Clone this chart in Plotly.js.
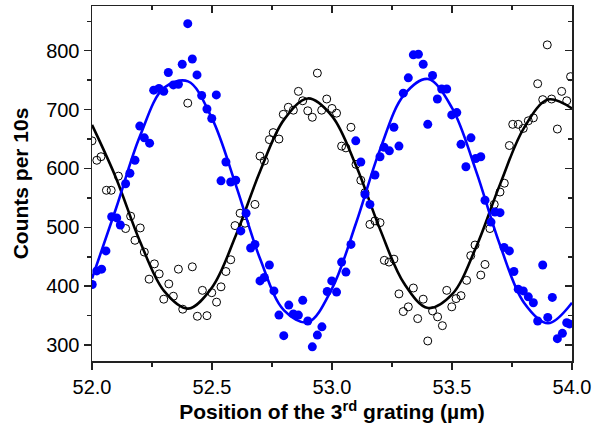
<!DOCTYPE html>
<html>
<head>
<meta charset="utf-8">
<script src="https://cdn.plot.ly/plotly-3.0.1.min.js"></script>
<style>html,body{margin:0;padding:0;background:#fff;}#chart{width:603px;height:427px;}</style>
</head>
<body>
<div id="chart"></div>
<script>
// Filled (blue) data points
const blueX = [52.001,52.02,52.04,52.058,52.082,52.103,52.118,52.14,52.158,52.179,52.199,52.218,52.24,52.257,52.279,52.299,52.318,52.339,52.36,52.376,52.399,52.418,52.4375,52.457,52.479,52.499,52.518,52.5375,52.558,52.578,52.599,52.62,52.642,52.661,52.679,52.7,52.718,52.739,52.758,52.779,52.799,52.82,52.839,52.86,52.878,52.899,52.918,52.939,52.958,52.98,52.999,53.019,53.04,53.058,53.079,53.099,53.12,53.1375,53.158,53.179,53.2,53.217,53.239,53.258,53.279,53.297,53.318,53.339,53.36,53.38,53.399,53.419,53.439,53.457,53.478,53.499,53.52,53.5375,53.558,53.579,53.599,53.62,53.6375,53.6625,53.679,53.7,53.717,53.739,53.758,53.776,53.797,53.818,53.839,53.857,53.878,53.899,53.918,53.939,53.96,53.978,53.989];
const blueY = [403,426,429,460,518,516,504,574,592,614,672,652,643,733,736,731,763,742,743,777,846,786,759,724,701,685,725,579,611,577,580,494,524,465,471,409,415,436,392,351,316,368,353,351,376,341,297,317,331,391,409,390,441,424,471,647,611,556,539,589,620,636,630,670,638,728,754,793,794,777,675,758,718,735,735,691,695,641,603,652,617,620,546,509,526,525,466,460,425,395,392,382,372,341,436,347,381,311,320,338,336];

// Open (black) data points
const blackX = [52.0,52.02,52.0375,52.06,52.08,52.11,52.14,52.161,52.179,52.201,52.218,52.238,52.26,52.28,52.299,52.32,52.339,52.36,52.378,52.399,52.418,52.439,52.46,52.479,52.499,52.519,52.5375,52.558,52.578,52.596,52.617,52.6375,52.679,52.7,52.718,52.739,52.755,52.779,52.797,52.818,52.839,52.86,52.878,52.899,52.918,52.939,52.957,52.978,53.0,53.019,53.04,53.058,53.079,53.1,53.12,53.1375,53.158,53.179,53.2,53.218,53.2375,53.258,53.279,53.297,53.318,53.339,53.357,53.38,53.399,53.419,53.44,53.46,53.478,53.499,53.517,53.5375,53.561,53.578,53.596,53.62,53.6375,53.658,53.676,53.7,53.718,53.739,53.753,53.776,53.797,53.818,53.839,53.857,53.878,53.897,53.915,53.939,53.957,53.978,53.994];
const blackY = [647,614,620,563,563,587,498,519,478,499,458,412,438,421,378,404,383,429,361,711,433,349,393,350,389,373,399,425,445,503,524,507,539,621,613,649,661,650,692,704,699,731,715,698,687,762,699,718,702,694,638,635,670,607,580,559,505,511,508,444,441,446,387,357,365,397,345,378,307,358,348,333,393,365,379,384,410,452,470,419,437,498,539,560,575,639,675,675,668,681,686,744,717,810,718,667,731,715,756];

// Fitted curves at 0.1 µm steps
const fitX = [52.0,52.1,52.2,52.3,52.4,52.5,52.6,52.7,52.8,52.9,53.0,53.1,53.2,53.3,53.4,53.5,53.6,53.7,53.8,53.9,54.0];
const blueFitY = [413,532,655,737,748,685,571,447,359,339,396,507,632,725,752,703,596,470,372,337,372];
const blackFitY = [674,584,476,392,362,398,487,595,683,719,689,605,497,405,363,386,466,573,669,717,702];

const xTicks = [52.0,52.5,53.0,53.5,54.0];
const yTicks = [300,400,500,600,700,800];

const traces = [
  {x: blackX, y: blackY, type: 'scatter', mode: 'markers',
   marker: {symbol: 'circle-open', size: 8, color: '#000', line: {width: 1, color: '#000'}}},
  {x: fitX, y: blackFitY, type: 'scatter', mode: 'lines',
   line: {color: '#000', width: 2.6, shape: 'spline', smoothing: 1}},
  {x: blueX, y: blueY, type: 'scatter', mode: 'markers',
   marker: {symbol: 'circle', size: 9, color: '#0000ff'}},
  {x: fitX, y: blueFitY, type: 'scatter', mode: 'lines',
   line: {color: '#0000ff', width: 2.6, shape: 'spline', smoothing: 1}}
];

const font = {family: 'Liberation Sans, Arial, sans-serif', color: '#000'};
const layout = {
  width: 603, height: 427,
  margin: {l: 92, r: 31, t: 6, b: 66, pad: 0},
  paper_bgcolor: '#fff', plot_bgcolor: '#fff',
  showlegend: false,
  font: font,
  xaxis: {
    range: [52.0, 54.0], tickvals: xTicks, ticktext: xTicks.map(v => v.toFixed(1)),
    ticks: 'outside', ticklen: 7, tickwidth: 1.5, tickcolor: '#222',
    showline: true, linecolor: '#222', linewidth: 1.5, showgrid: false, zeroline: false,
    tickfont: {family: font.family, size: 20, color: '#000'},
    minor: {ticks: 'outside', ticklen: 4, tickwidth: 1.5, tickcolor: '#222', tickvals: [52.25,52.75,53.25,53.75], showgrid: false},
    title: {text: '<b>Position of the 3<sup>rd</sup> grating (µm)</b>', font: {family: font.family, size: 21, color: '#000'}, standoff: 8}
  },
  yaxis: {
    range: [273, 876], tickvals: yTicks,
    ticks: 'outside', ticklen: 7, tickwidth: 1.5, tickcolor: '#222',
    showline: true, linecolor: '#222', linewidth: 1.5, showgrid: false, zeroline: false,
    tickfont: {family: font.family, size: 20, color: '#000'},
    minor: {ticks: 'outside', ticklen: 4, tickwidth: 1.5, tickcolor: '#222', tickvals: [350,450,550,650,750,850], showgrid: false},
    title: {text: '<b>Counts per 10s</b>', font: {family: font.family, size: 21, color: '#000'}, standoff: 12}
  },
  xaxis2: {
    overlaying: 'x', side: 'top', anchor: 'y', range: [52.0, 54.0], tickvals: xTicks,
    ticks: 'inside', ticklen: 7, tickwidth: 1.5, tickcolor: '#222', showticklabels: false,
    showline: true, linecolor: '#222', linewidth: 1.5, showgrid: false, zeroline: false,
    minor: {ticks: 'inside', ticklen: 4, tickwidth: 1.5, tickcolor: '#222', tickvals: [52.25,52.75,53.25,53.75], showgrid: false}
  },
  yaxis2: {
    overlaying: 'y', side: 'right', anchor: 'x', range: [273, 876], tickvals: yTicks,
    ticks: 'inside', ticklen: 7, tickwidth: 1.5, tickcolor: '#222', showticklabels: false,
    showline: true, linecolor: '#222', linewidth: 1.5, showgrid: false, zeroline: false,
    minor: {ticks: 'inside', ticklen: 4, tickwidth: 1.5, tickcolor: '#222', tickvals: [350,450,550,650,750,850], showgrid: false}
  }
};

// dummy invisible trace to activate the mirrored axes
traces.push({x: [52.0], y: [273], xaxis: 'x2', yaxis: 'y2', type: 'scatter', mode: 'markers',
  marker: {opacity: 0}, hoverinfo: 'skip'});

Plotly.newPlot('chart', traces, layout, {displayModeBar: false, staticPlot: true});
</script>
</body>
</html>
